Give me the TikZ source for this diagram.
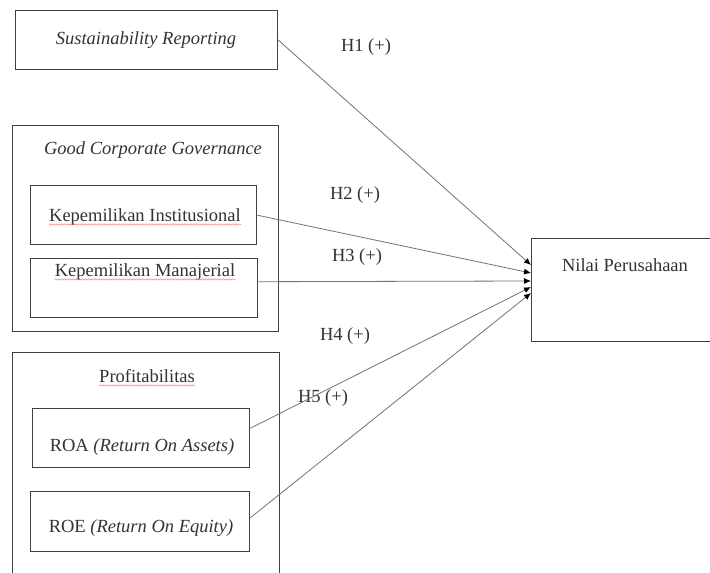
\documentclass[tikz,border=0pt]{standalone}
\usepackage{fontspec}
\setmainfont{Liberation Serif}
\usetikzlibrary{arrows.meta,decorations.pathmorphing}
\begin{document}
\begin{tikzpicture}[x=1pt,y=-1pt,
 box/.style={draw=black!75,line width=1.4pt,inner sep=0pt,anchor=north west},
 lbl/.style={font=\fontsize{18.5}{22}\selectfont,text=black!80,inner sep=0pt},
 link/.style={draw=black!55,line width=0.8pt,-{Latex[length=7pt,width=6pt,fill=black,color=black]}},
 wavy/.style={draw=red!55,line width=0.5pt,decorate,decoration={snake,amplitude=0.7pt,segment length=3pt}}]
\clip (0,0) rectangle (710,573);
\fill[white] (0,0) rectangle (710,573);
% boxes
\node[box,minimum width=262pt,minimum height=59pt] (sr) at (15,10) {};
\node[box,minimum width=266pt,minimum height=206pt] (gcg) at (12,125) {};
\node[box,minimum width=226pt,minimum height=59pt] (ki) at (30,185) {};
\node[box,minimum width=227pt,minimum height=59pt] (km) at (30,258) {};
\node[box,minimum width=267pt,minimum height=230pt] (prof) at (12,352) {};
\node[box,minimum width=217pt,minimum height=59pt] (roa) at (32,408) {};
\node[box,minimum width=219pt,minimum height=60pt] (roe) at (30,491) {};
\node[box,minimum width=190pt,minimum height=103pt] (np) at (531,238) {};
% texts
\node[lbl] (tsr) at (146,40) {\itshape Sustainability Reporting};
\node[lbl] (tgcg) at (153,150) {\itshape Good Corporate Governance};
\node[lbl] (tki) at (145,217) {Kepemilikan Institusional};
\node[lbl] (tkm) at (145,272) {Kepemilikan Manajerial};
\node[lbl] (tprof) at (147,376) {Profitabilitas};
\node[lbl] (troa) at (142,447) {ROA \textit{(Return On Assets)}};
\node[lbl] (troe) at (141,528) {ROE \textit{(Return On Equity)}};
\node[lbl] (tnp) at (625,265) {Nilai Perusahaan};
\node[lbl] (h1) at (366,47) {H1 (+)};
\node[lbl] (h2) at (355,195) {H2 (+)};
\node[lbl] (h3) at (357,257) {H3 (+)};
\node[lbl] (h4) at (345,336) {H4 (+)};
\node[lbl] (h5) at (323,398) {H5 (+)};
% spell-check underlines
\draw[wavy] ([yshift=-3pt]tki.base west) -- ([yshift=-3pt]tki.base east);
\draw[wavy] ([yshift=-3pt]tkm.base west) -- ([yshift=-3pt]tkm.base east);
\draw[wavy] ([yshift=-3pt]tprof.base west) -- ([yshift=-3pt]tprof.base east);
% connectors
\draw[link] (sr.east) -- ([yshift=-27pt]np.north west);
\draw[link] (ki.east) -- ([yshift=-35pt]np.north west);
\draw[link] ([yshift=6.5pt]km.east) -- ([yshift=-43pt]np.north west);
\draw[link] ([yshift=10pt]roa.east) -- ([yshift=-49pt]np.north west);
\draw[link] ([yshift=4pt]roe.east) -- ([yshift=-55pt]np.north west);
\end{tikzpicture}
\end{document}
